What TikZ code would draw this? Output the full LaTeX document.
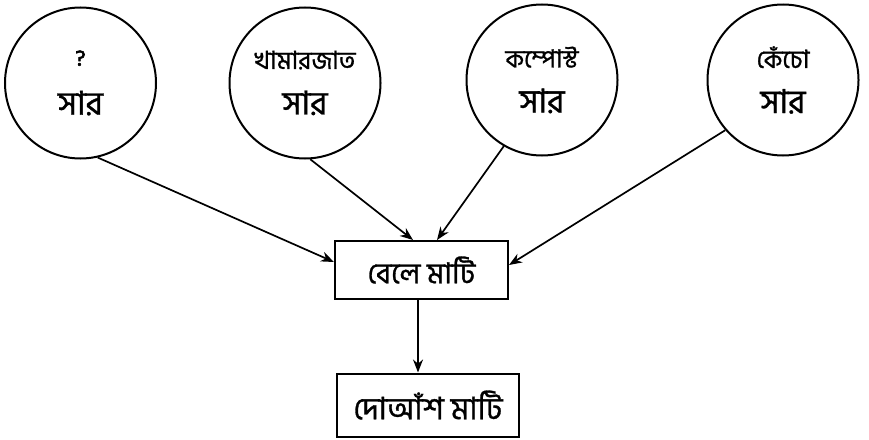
\documentclass[tikz,border=0pt]{standalone}
\usepackage{fontspec}
\newfontfamily\bn[Script=Bengali,FakeBold=1]{Hind Siliguri}
\usetikzlibrary{arrows.meta}
\newcommand{\topl}[1]{{\fontsize{25}{28}\selectfont #1}}
\newcommand{\botl}[1]{{\fontsize{33}{36}\selectfont #1}}
\begin{document}
\begin{tikzpicture}[x=1pt,y=-1pt,
 src/.style={circle,draw,line width=2pt,minimum size=151pt,inner sep=0pt,align=center,font=\bn},
 box/.style={draw,line width=2pt,inner sep=0pt,font=\bn},
 arr/.style={line width=1.7pt,-{Stealth[length=13pt,width=10pt]}}]
\useasboundingbox (0,0) rectangle (869,439);
\node[src] (c1) at (80.5,83) {{\fontsize{22}{26}\selectfont\addfontfeature{FakeBold=3}?}\\[24pt]\botl{সার}};
\node[src] (c2) at (305,83) {\topl{খামারজাত}\\[20pt]\botl{সার}};
\node[src] (c3) at (542,80) {\topl{কম্পোস্ট}\\[20pt]\botl{সার}};
\node[src] (c4) at (783,80) {\topl{কেঁচো}\\[20pt]\botl{সার}};
\node[box,minimum width=173pt,minimum height=58pt,font=\bn\fontsize{29}{32}\selectfont] (b1) at (421.5,270) {বেলে মাটি};
\node[box,minimum width=182pt,minimum height=63pt,font=\bn\fontsize{31}{34}\selectfont] (b2) at (428,405) {দোআঁশ মাটি};
\coordinate (e1) at ([yshift=8pt]b1.west);
\coordinate (e2) at ([xshift=-8.5pt]b1.north);
\coordinate (e3) at ([xshift=15.5pt]b1.north);
\coordinate (e4) at ([yshift=5pt]b1.east);
\coordinate (s5) at ([xshift=-3.5pt]b1.south);
\draw[arr] (c1.-77) -- (e1);
\draw[arr] (c2.-86) -- (e2);
\draw[arr] (c3.-120) -- (e3);
\draw[arr] (c4.-139) -- (e4);
\draw[arr] (s5) -- (s5 |- b2.north);
\end{tikzpicture}
\end{document}
